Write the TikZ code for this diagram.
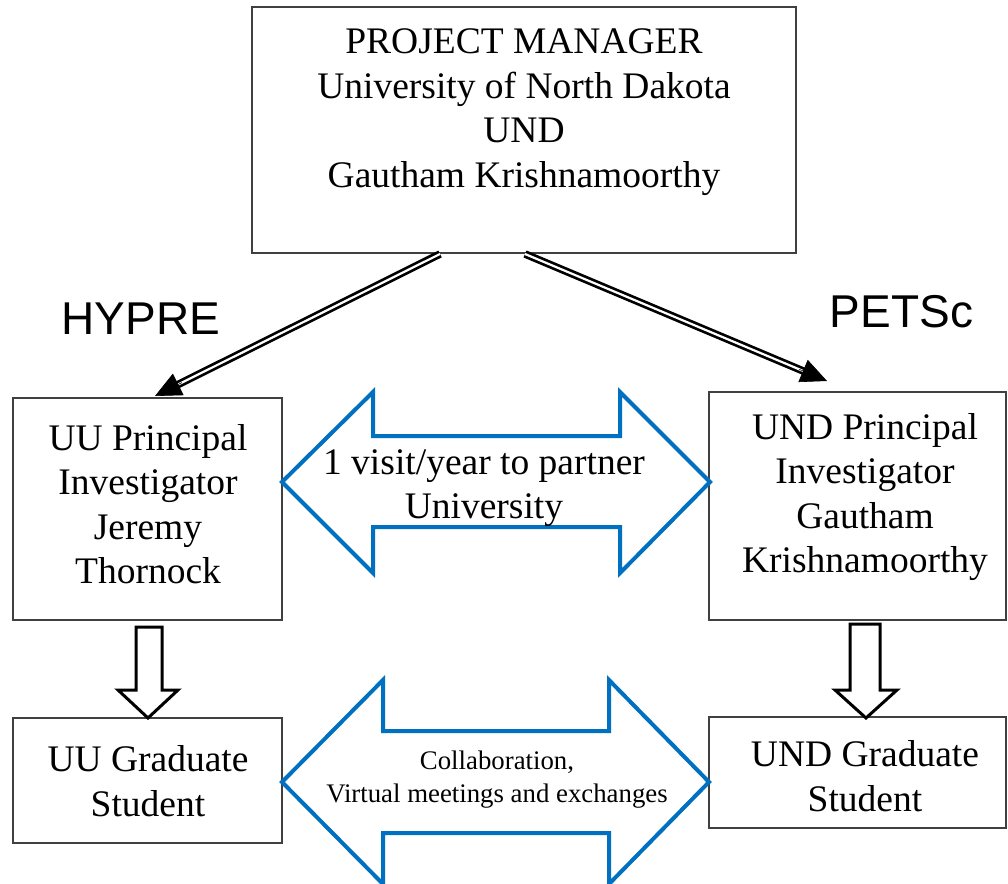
\documentclass[tikz,border=0pt]{standalone}
\usepackage{fontspec}
\setmainfont{Liberation Serif}
\newfontfamily\arialfont{Liberation Sans}
\usetikzlibrary{arrows.meta,calc}
\definecolor{bluearrow}{HTML}{0070C0}
\definecolor{boxline}{HTML}{404040}
\tikzset{
  box/.style={draw=boxline, line width=1.3pt, inner sep=0pt, rectangle},
  maintext/.style={font=\fontsize{37.5}{44.5}\selectfont, align=center, inner sep=0pt},
  smalltext/.style={font=\fontsize{26.8}{33}\selectfont, align=center, inner sep=0pt},
  labeltext/.style={font=\arialfont\fontsize{46}{50}\selectfont, inner sep=0pt},
  bluebig/.style={draw=bluearrow, line width=4pt, line join=miter, miter limit=10},
  blockdown/.style={draw=black, fill=white, line width=3pt, line join=miter, miter limit=10},
  dblline/.style={draw=black, double=white, line width=2.7pt, double distance=2.2pt},
  headtip/.style={-{Triangle[length=26pt,width=24pt]}, line width=0.6pt, black}
}
\begin{document}
\begin{tikzpicture}[x=1pt,y=-1pt]
\useasboundingbox (0,0) rectangle (1008,883);

% boxes
\node[box, minimum width=544pt, minimum height=246pt] (top) at (524,130) {};
\node[box, minimum width=269pt, minimum height=222pt] (lpi) at (147.5,509) {};
\node[box, minimum width=297pt, minimum height=228pt] (rpi) at (857.5,506) {};
\node[box, minimum width=269pt, minimum height=125pt] (lgrad) at (147.5,780.5) {};
\node[box, minimum width=297pt, minimum height=111pt] (rgrad) at (857.5,772.5) {};

% texts
\node[maintext] (toptext) at (524,112) {PROJECT MANAGER\\University of North Dakota\\UND\\Gautham Krishnamoorthy};
\node[maintext] (lpitext) at (148,504) {UU Principal\\Investigator\\Jeremy\\Thornock};
\node[maintext] (rpitext) at (865,497) {UND Principal\\Investigator\\Gautham\\Krishnamoorthy};
\node[maintext] (lgradtext) at (148,781) {UU Graduate\\Student};
\node[maintext] (rgradtext) at (865,776) {UND Graduate\\Student};

\node[labeltext] (hypre) at (141,318.5) {HYPRE};
\node[labeltext] (petsc) at (901.5,312) {PETSc};

% top double arrows
\coordinate (s1) at (440,254);
\coordinate (e1) at (155,396);
\coordinate (s2) at (525,254);
\coordinate (e2) at (827,381);
\draw[dblline, shorten >=22pt] (s1) -- (e1);
\draw[dblline, shorten >=22pt] (s2) -- (e2);
\draw[headtip] ($(e1)!30pt!(s1)$) -- (e1);
\draw[headtip] ($(e2)!30pt!(s2)$) -- (e2);

% blue double arrows
\draw[bluebig] (282,482) -- (373,392) -- (373,436) -- (620,436) -- (620,392) -- (710,482)
  -- (620,573) -- (620,527) -- (373,527) -- (373,573) -- cycle;
\node[maintext] (visit) at (484,488) {1 visit/year to partner\\University};

\draw[bluebig] (282,782) -- (383,680) -- (383,731) -- (609,731) -- (609,680) -- (709,782)
  -- (609,884) -- (609,833) -- (383,833) -- (383,884) -- cycle;
\node[smalltext] (collab) at (497,779.5) {Collaboration,\\Virtual meetings and exchanges};

% block down arrows
\draw[blockdown] (136,627) -- (162,627) -- (162,690) -- (178,690) -- (148,718) -- (118,690) -- (136,690) -- cycle;
\draw[blockdown] (850,624) -- (880,624) -- (880,690) -- (897,690) -- (866,718) -- (835,690) -- (850,690) -- cycle;
\end{tikzpicture}
\end{document}
